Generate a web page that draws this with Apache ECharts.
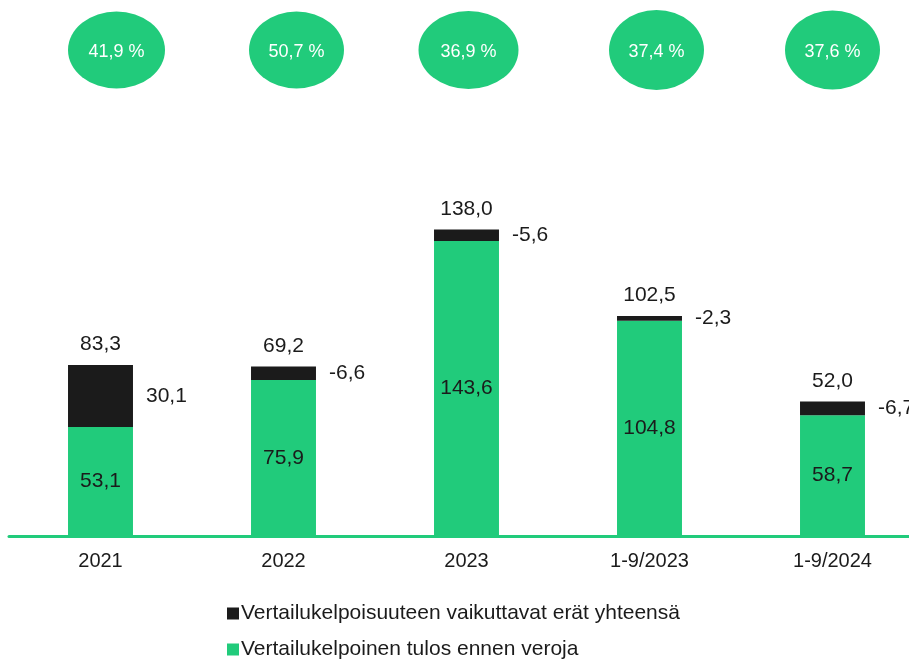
<!DOCTYPE html>
<html>
<head>
<meta charset="utf-8">
<script src="https://cdn.jsdelivr.net/npm/echarts@6/dist/echarts.min.js"></script>
<style>
  html, body { margin: 0; padding: 0; background: #fff; }
  #chart { width: 909px; height: 659px; }
</style>
</head>
<body>
<div id="chart"></div>
<script>
  // kaudet ja arvot
  var categories = ['2021', '2022', '2023', '1-9/2023', '1-9/2024']
  var comparable = [53.1, 75.9, 143.6, 104.8, 58.7]
  var affecting = [30.1, -6.6, -5.6, -2.3, -6.7]
  var totals = [83.3, 69.2, 138.0, 102.5, 52.0]
  var percents = [41.9, 50.7, 36.9, 37.4, 37.6]

  var GREEN = '#21cb7b'
  var BLACK = '#1b1b1b'
  var NAME_GREEN = 'Vertailukelpoinen tulos ennen veroja'
  var NAME_BLACK = 'Vertailukelpoisuuteen vaikuttavat erät yhteensä'

  function fi(v) {
    return v.toFixed(1).replace('.', ',')
  }

  // ellipsien pienet siirtymät ja koot
  var bubbleOffset = [16, 13, 2, 7, 0]
  var bubbleSize = [[97, 77], [95, 77], [100, 78], [95, 80], [95, 79]]

  var legendBase = {
    orient: 'vertical',
    left: 222,
    itemWidth: 12,
    itemHeight: 12,
    itemGap: 4,
    icon: 'rect',
    textStyle: { fontSize: 21, color: BLACK, padding: [0, 0, 0, -3] }
  }

  var chart = echarts.init(document.getElementById('chart'))
  var option = {
    backgroundColor: '#fff',
    textStyle: { fontFamily: 'Liberation Sans, Arial, sans-serif' },
    animation: false,
    grid: [
      { left: 9, right: -15, top: 125, height: 411, outerBoundsMode: 'none', containLabel: false },
      { left: 9, right: -15, top: 10, height: 80, outerBoundsMode: 'none', containLabel: false }
    ],
    legend: [
      Object.assign({}, legendBase, { top: 598, data: [NAME_BLACK] }),
      Object.assign({}, legendBase, { top: 634, data: [NAME_GREEN] })
    ],
    xAxis: [{
      type: 'category',
      gridIndex: 0,
      data: categories,
      axisLine: { lineStyle: { color: GREEN, width: 3 } },
      axisTick: { show: false },
      axisLabel: { fontSize: 20, color: BLACK, margin: 15 }
    }, {
      type: 'category',
      gridIndex: 1,
      data: categories,
      show: false
    }],
    yAxis: [{
      type: 'value',
      gridIndex: 0,
      min: 0,
      max: 200,
      show: false
    }, {
      type: 'value',
      gridIndex: 1,
      min: 0,
      max: 1,
      show: false
    }],
    series: [{
      name: NAME_GREEN,
      type: 'bar',
      stack: 'a',
      barWidth: '35.5%',
      itemStyle: { color: GREEN },
      label: {
        show: true,
        position: 'inside',
        fontSize: 21,
        color: BLACK,
        formatter: function(p) { return fi(p.value) }
      },
      data: comparable
    }, {
      name: NAME_BLACK,
      type: 'bar',
      stack: 'a',
      itemStyle: { color: BLACK },
      label: {
        show: true,
        position: 'right',
        distance: 13,
        fontSize: 21,
        color: BLACK,
        formatter: function(p) { return fi(affecting[p.dataIndex]) }
      },
      data: affecting.map(function(v) { return Math.abs(v) })
    }, {
      name: 'total',
      type: 'bar',
      stack: 'a',
      itemStyle: { color: 'transparent' },
      label: {
        show: true,
        position: 'top',
        distance: 10,
        fontSize: 21,
        color: BLACK,
        formatter: function(p) { return fi(totals[p.dataIndex]) }
      },
      data: totals.map(function() { return 0 })
    }, {
      name: 'pct',
      type: 'scatter',
      xAxisIndex: 1,
      yAxisIndex: 1,
      symbol: 'circle',
      itemStyle: { color: GREEN, opacity: 1 },
      label: {
        show: true,
        position: 'inside',
        fontSize: 18,
        color: '#fff',
        offset: [0, 2],
        formatter: function(p) { return fi(percents[p.dataIndex]) + ' %' }
      },
      data: percents.map(function(v, i) {
        return { value: 0.5, symbolSize: bubbleSize[i], symbolOffset: [bubbleOffset[i], 0] }
      })
    }]
  }
  chart.setOption(option)
</script>
</body>
</html>
